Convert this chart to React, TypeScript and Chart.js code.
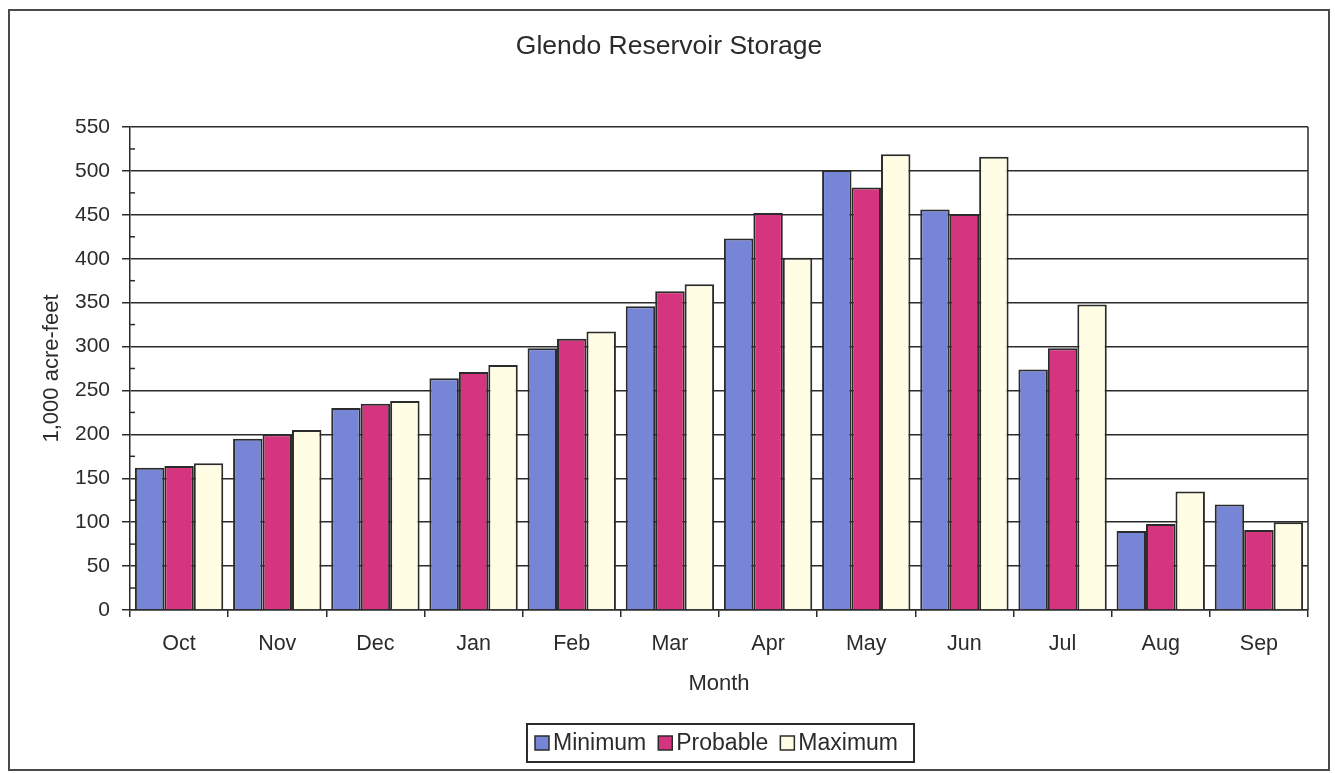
import React, { useEffect, useRef } from "react";
import { Chart, registerables } from "chart.js";

Chart.register(...registerables);

const chartTitle = "Glendo Reservoir Storage";
const xTitle = "Month";
const yTitle = "1,000 acre-feet";
const months = ["Oct", "Nov", "Dec", "Jan", "Feb", "Mar", "Apr", "May", "Jun", "Jul", "Aug", "Sep"];
const minimum = [162, 195, 230, 264, 298, 346, 423, 501, 456, 274, 90, 120];
const probable = [164, 200, 235, 271, 309, 363, 452, 481, 451, 298, 98, 91];
const maximum = [167, 205, 238, 279, 317, 371, 401, 519, 516, 348, 135, 100];
const minorTickValues = [25, 75, 125, 175, 225, 275, 325, 375, 425, 475, 525];

const FONT = "'Liberation Sans', Arial, sans-serif";
const INK = "#2b2b2b";

const extrasPlugin = {
  id: "extras",
  afterDatasetsDraw(chart: any) {
    const { ctx, chartArea, scales } = chart;
    const y = scales.y;
    ctx.save();
    ctx.strokeStyle = INK;
    ctx.lineWidth = 1.5;
    ctx.beginPath();
    ctx.moveTo(chartArea.right, chartArea.top);
    ctx.lineTo(chartArea.right, chartArea.bottom);
    ctx.stroke();
    minorTickValues.forEach((v) => {
      const py = y.getPixelForValue(v);
      ctx.beginPath();
      ctx.moveTo(chartArea.left, py);
      ctx.lineTo(chartArea.left + 5, py);
      ctx.stroke();
    });
    ctx.restore();
  },
  afterDraw(chart: any) {
    const { ctx } = chart;
    const ds = chart.data.datasets;
    ctx.save();
    // title
    ctx.font = `26.5px ${FONT}`;
    ctx.fillStyle = INK;
    ctx.textAlign = "center";
    ctx.textBaseline = "middle";
    ctx.fillText(chartTitle, chart.width / 2, 36);
    // legend
    ctx.font = `23px ${FONT}`;
    const boxLeft = 517;
    const boxTop = 713;
    const boxH = 38;
    const sq = 14;
    const gapAfterSq = 4;
    const gapBetween = 12;
    let x = boxLeft + 8;
    const cy = boxTop + boxH / 2;
    const items: { x: number; ds: any }[] = [];
    ds.forEach((d: any) => {
      items.push({ x, ds: d });
      x += sq + gapAfterSq + ctx.measureText(d.label).width + gapBetween;
    });
    const boxRight = x - gapBetween + 16;
    ctx.fillStyle = "#ffffff";
    ctx.fillRect(boxLeft, boxTop, boxRight - boxLeft, boxH);
    ctx.strokeStyle = INK;
    ctx.lineWidth = 2;
    ctx.strokeRect(boxLeft, boxTop, boxRight - boxLeft, boxH);
    items.forEach((it) => {
      ctx.fillStyle = it.ds.backgroundColor;
      ctx.fillRect(it.x, cy - sq / 2, sq, sq);
      ctx.strokeStyle = INK;
      ctx.lineWidth = 1.5;
      ctx.strokeRect(it.x, cy - sq / 2, sq, sq);
      ctx.fillStyle = INK;
      ctx.textAlign = "left";
      ctx.fillText(it.ds.label, it.x + sq + gapAfterSq, cy + 1);
    });
    ctx.restore();
  },
};

export default function App() {
  const canvasRef = useRef<HTMLCanvasElement | null>(null);

  useEffect(() => {
    if (!canvasRef.current) return;
    const chart = new Chart(canvasRef.current, {
      type: "bar",
      data: {
        labels: months,
        datasets: [
          { label: "Minimum", data: minimum, backgroundColor: "#7785d7", borderColor: INK, borderWidth: 2 },
          { label: "Probable", data: probable, backgroundColor: "#d5347f", borderColor: INK, borderWidth: 2 },
          { label: "Maximum", data: maximum, backgroundColor: "#fffde4", borderColor: INK, borderWidth: 2 },
        ],
      },
      options: {
        animation: false,
        responsive: false,
        maintainAspectRatio: false,
        datasets: { bar: { categoryPercentage: 0.9, barPercentage: 1.0 } },
        layout: { padding: { left: 0, right: 20, top: 116, bottom: 59 } },
        plugins: {
          legend: { display: false },
          tooltip: { enabled: false },
          title: { display: false },
        },
        scales: {
          x: {
            grid: { offset: true, drawOnChartArea: false, drawTicks: true, tickLength: 7, color: INK, lineWidth: 1.5 },
            border: { display: true, color: INK, width: 1.5 },
            ticks: { color: INK, font: { family: FONT, size: 21.5 }, padding: 14, maxRotation: 0 },
            title: { display: true, text: xTitle, color: INK, font: { family: FONT, size: 22 }, padding: { top: 0, bottom: 13 } },
            afterFit: (scale: any) => { scale.height = 100; },
          },
          y: {
            min: 0,
            max: 550,
            grid: { color: INK, lineWidth: 1.5, tickLength: 8, drawTicks: true },
            border: { display: true, color: INK, width: 1.5 },
            ticks: { stepSize: 50, color: INK, font: { family: FONT, size: 21 }, padding: 12 },
            title: { display: true, text: yTitle, color: INK, font: { family: FONT, size: 22 }, padding: { top: 29, bottom: 0 } },
            afterFit: (scale: any) => { scale.width = 120; },
          },
        },
      },
      plugins: [extrasPlugin],
    });
    return () => chart.destroy();
  }, []);

  return (
    <div
      style={{
        position: "absolute",
        left: 8,
        top: 9,
        width: 1322,
        height: 762,
        border: "2px solid #4a4a4a",
        boxSizing: "border-box",
        background: "#fff",
      }}
    >
      <canvas ref={canvasRef} width={1318} height={758} style={{ display: "block" }} />
    </div>
  );
}
